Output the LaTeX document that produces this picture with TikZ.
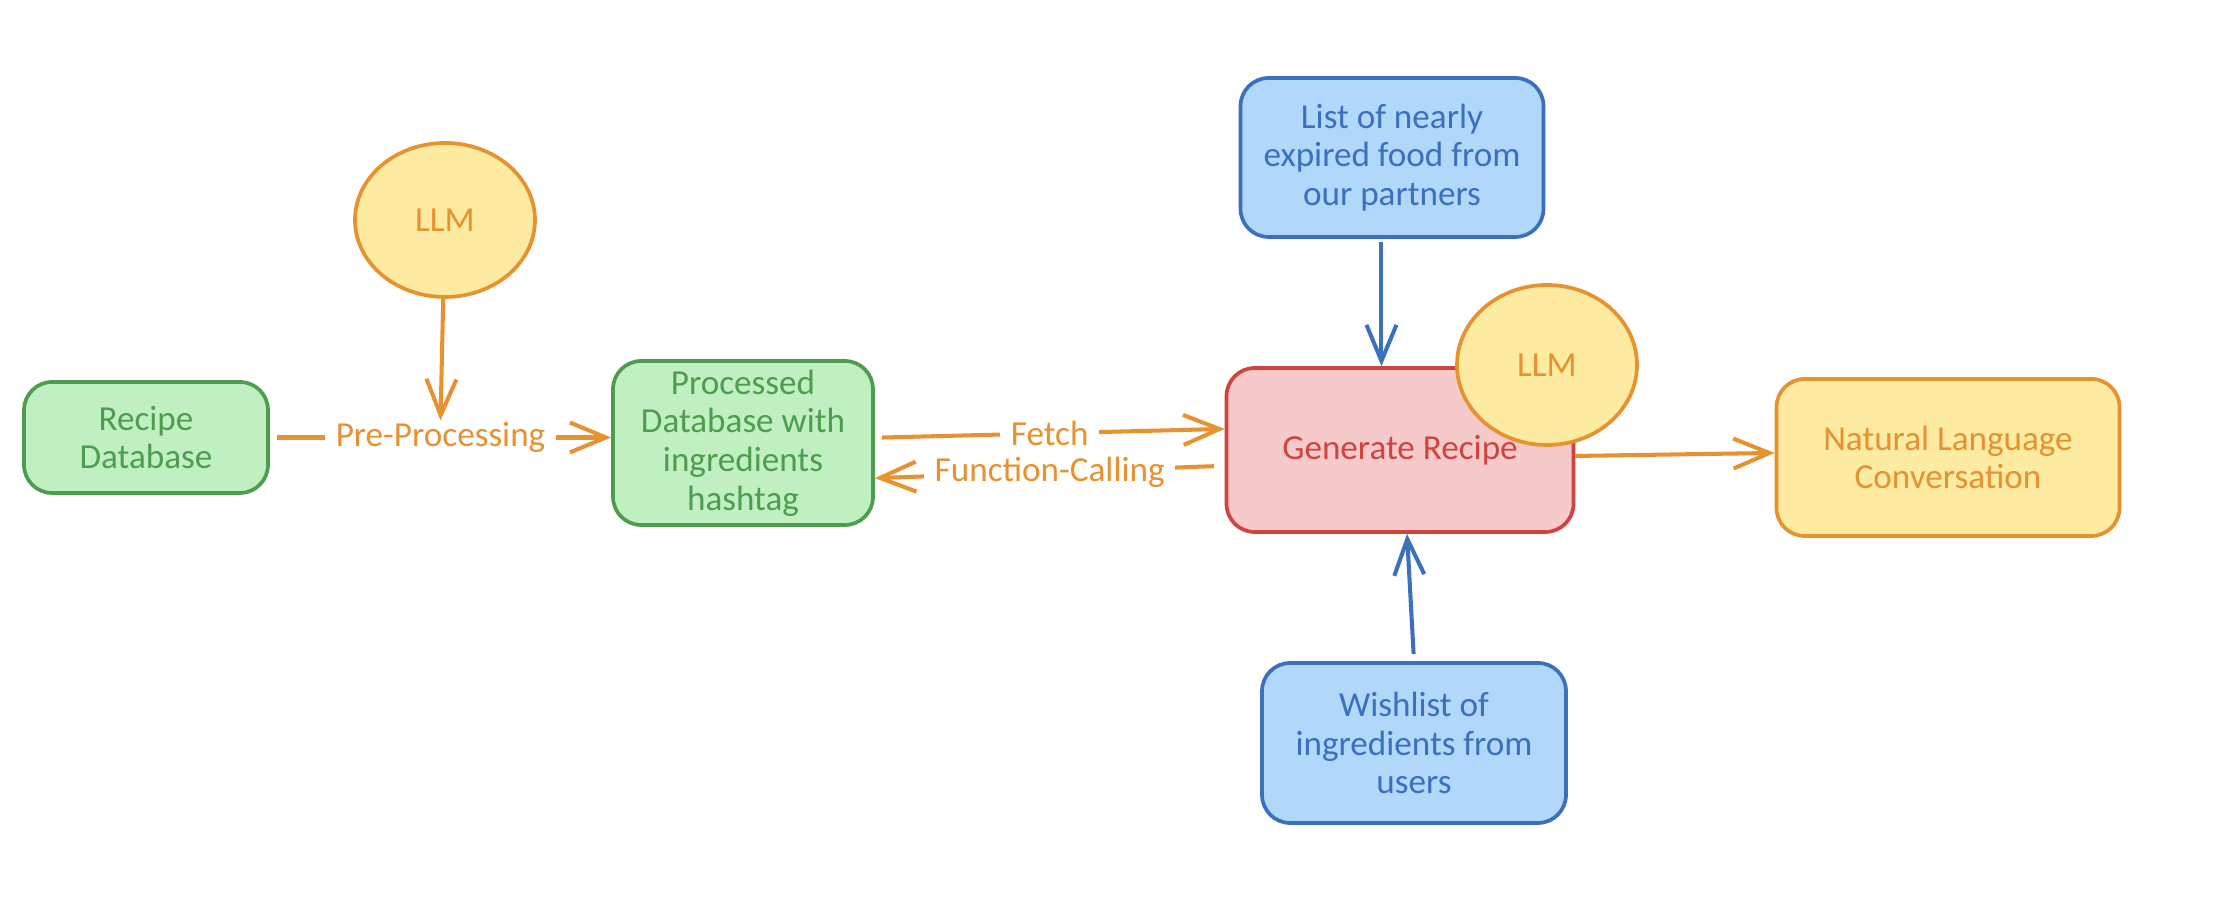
\documentclass[tikz,border=0pt]{standalone}
\usepackage{fontspec}
\setmainfont{Carlito}
\usetikzlibrary{arrows.meta,shapes.geometric}
\definecolor{greenfill}{HTML}{C0F0C2}
\definecolor{greenline}{HTML}{4E9D4E}
\definecolor{bluefill}{HTML}{B1D7FA}
\definecolor{blueline}{HTML}{3B70BE}
\definecolor{redfill}{HTML}{F6CACA}
\definecolor{redline}{HTML}{D0443F}
\definecolor{yellowfill}{HTML}{FCEBA1}
\definecolor{yellowline}{HTML}{E7912F}
\newcommand{\nine}{\fontsize{10}{11}\selectfont}
\tikzset{
 every node/.append style={font=\nine,align=center},
 box/.style={draw,rounded corners=8pt,line width=1.05pt,inner sep=2pt},
 store/.style={box,draw=greenline,fill=greenfill,text=greenline},
 source/.style={box,draw=blueline,fill=bluefill,text=blueline},
 engine/.style={box,draw=redline,fill=redfill,text=redline},
 reply/.style={box,draw=yellowline,fill=yellowfill,text=yellowline},
 llm/.style={ellipse,draw=yellowline,fill=yellowfill,text=yellowline,line width=1.05pt,inner sep=0pt},
 flow/.style={-{Straight Barb[length=3.6mm,width=3mm]},draw=yellowline,line width=1.15pt},
 feed/.style={flow,draw=blueline},
 tag/.style={fill=white,text=yellowline,inner xsep=3pt,inner ysep=0pt},
}

\begin{document}
\begin{tikzpicture}
\useasboundingbox (0,0) rectangle (22.36,-9.16);

\node[store,minimum width=24.4mm,minimum height=11.1mm] (recipe) at (1.46,-4.375)
  {Recipe\\Database};
\node[llm,minimum width=18mm,minimum height=15.4mm] (llma) at (4.45,-2.20) {LLM};
\node[store,minimum width=26mm,minimum height=16.4mm] (processed) at (7.43,-4.43)
  {Processed\\Database with\\ingredients\\hashtag};

\node[engine,minimum width=34.7mm,minimum height=16.4mm] (generate) at (14.00,-4.50)
  {Generate Recipe};
\node[llm,minimum width=18mm,minimum height=16mm] (llmb) at (15.47,-3.65) {LLM};
\node[source,minimum width=30.3mm,minimum height=15.9mm] (partners) at (13.92,-1.575)
  {List of nearly\\expired food from\\our partners};
\node[source,minimum width=30.4mm,minimum height=16mm] (wishlist) at (14.14,-7.43)
  {Wishlist of\\ingredients from\\users};
\node[reply,minimum width=34.3mm,minimum height=15.7mm] (conversation) at (19.48,-4.575)
  {Natural Language\\Conversation};

\draw[flow,shorten <=2pt] (recipe.east) -- node[tag] (prep) {Pre-Processing}
  (recipe.east -| processed.west);
\draw[flow] (llma) -- (prep.north);

\draw[flow,shorten <=2pt] ([yshift=1.5pt]processed.east) -- node[tag] {Fetch}
  ([yshift=6pt]generate.west);
\draw[flow,shorten <=3pt] ([yshift=-4.5pt]generate.west) -- node[tag] {Function-Calling}
  ([yshift=-10pt]processed.east);

\draw[feed,shorten <=1pt] ([xshift=-3pt]partners.south) -- ([xshift=-3pt]partners.south |- generate.north);
\draw[feed,shorten <=2pt] (wishlist.north) -- ([xshift=2pt]generate.south);
\draw[flow] ([yshift=-1.7pt]generate.east) -- ([yshift=1.3pt]conversation.west);
\end{tikzpicture}
\end{document}
